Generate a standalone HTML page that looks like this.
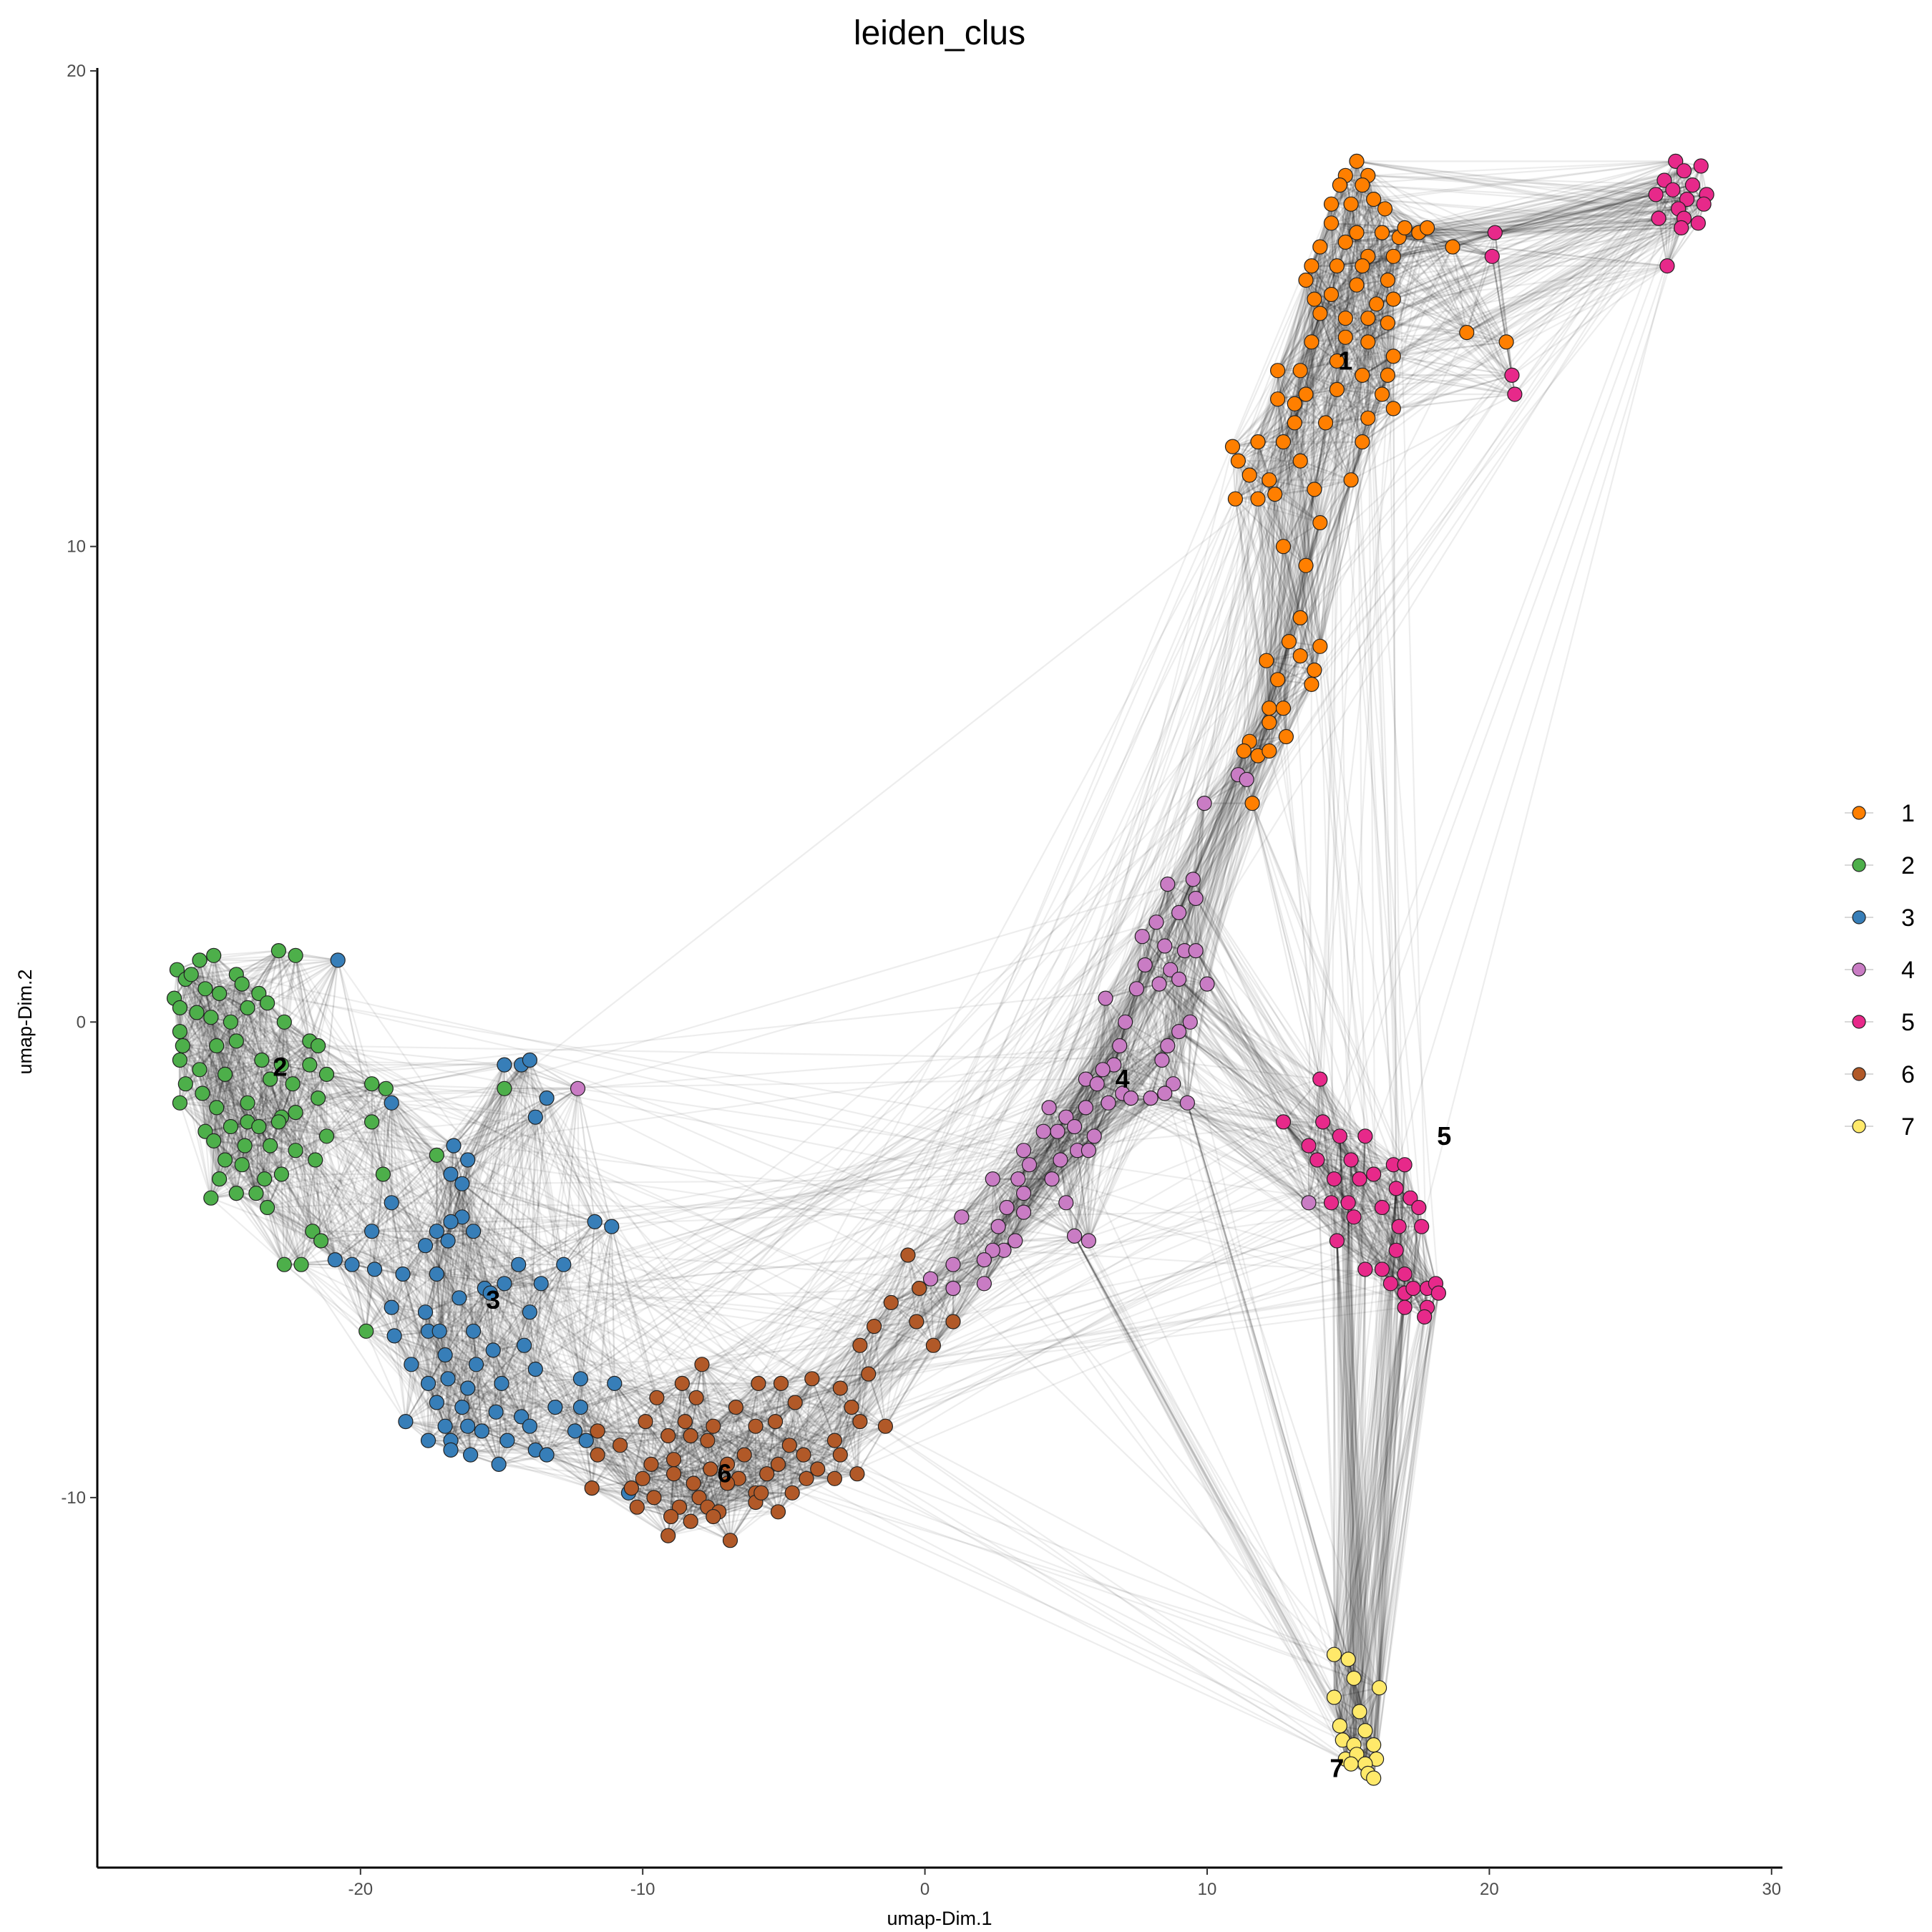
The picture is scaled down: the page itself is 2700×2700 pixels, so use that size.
<!DOCTYPE html>
<html><head><meta charset="utf-8"><title>leiden_clus</title>
<style>
html,body{margin:0;padding:0;background:#fff;}
svg{display:block;font-family:"Liberation Sans",sans-serif;}
</style></head>
<body>
<svg id="chart" width="2700" height="2700" viewBox="0 0 2700 2700" xmlns="http://www.w3.org/2000/svg">
<text x="1313" y="62" font-size="48" text-anchor="middle" fill="#000">leiden_clus</text>
<g id="edges"></g>
<g id="points"></g>
<g id="labels"></g>
<g id="axes"></g>
<g id="legend"></g>
</svg>
<script>
const clusterNames=["1","2","3","4","5","6","7"];
const clusterColors=["#FF7F00","#4DAF4A","#377EB8","#C97CC4","#E7298A","#B15928","#FFE96A"];
const xTicks=[-20,-10,0,10,20,30];
const yTicks=[-10,0,10,20];
const labelPos=[[14.9,13.9],[-22.85,-0.95],[-15.3,-5.85],[7.0,-1.2],[18.4,-2.4],[-7.1,-9.5],[14.6,-15.7]];
const c1=[[15.3,18.1],[14.9,17.8],[15.7,17.8],[14.7,17.6],[15.5,17.6],[14.4,17.2],[15.1,17.2],[15.9,17.3],[16.3,17.1],[14.4,16.8],[15.3,16.6],[16.2,16.6],[16.8,16.5],[14.0,16.3],[14.9,16.4],[15.7,16.1],[16.6,16.1],[13.7,15.9],[14.6,15.9],[15.5,15.9],[16.4,15.6],[13.5,15.6],[14.4,15.3],[15.3,15.5],[16.0,15.1],[16.6,15.2],[14.0,14.9],[14.9,14.8],[15.7,14.8],[16.4,14.7],[13.7,14.3],[14.9,14.4],[15.7,14.3],[16.6,14.0],[13.3,13.7],[14.6,13.9],[15.5,13.6],[16.4,13.6],[12.5,13.7],[13.5,13.2],[14.6,13.3],[16.2,13.2],[12.5,13.1],[13.1,13.0],[15.7,12.7],[16.6,12.9],[13.1,12.6],[14.2,12.6],[15.5,12.2],[11.8,12.2],[12.7,12.2],[10.9,12.1],[11.1,11.8],[13.3,11.8],[15.1,11.4],[11.5,11.5],[12.2,11.4],[13.8,11.2],[11.0,11.0],[11.8,11.0],[12.4,11.1],[12.7,10.0],[14.0,10.5],[13.5,9.6],[13.3,8.5],[12.9,8.0],[14.0,7.9],[13.3,7.7],[12.1,7.6],[12.5,7.2],[13.7,7.1],[13.8,7.4],[12.2,6.6],[12.7,6.6],[12.2,6.3],[12.8,6.0],[11.5,5.9],[11.8,5.6],[12.2,5.7],[11.6,4.6],[17.5,16.6],[17.8,16.7],[18.7,16.3],[19.2,14.5],[20.6,14.3],[17.0,16.7],[11.3,5.7],[13.8,15.2]];
const c2=[[-26.5,1.1],[-26.2,0.9],[-26.0,1.0],[-25.7,1.3],[-25.2,1.4],[-24.4,1.0],[-24.2,0.8],[-23.6,0.6],[-22.9,1.5],[-22.3,1.4],[-26.6,0.5],[-26.4,0.3],[-25.5,0.7],[-25.0,0.6],[-24.0,0.3],[-23.3,0.4],[-25.8,0.2],[-25.3,0.1],[-24.6,0.0],[-22.7,0.0],[-26.4,-0.2],[-26.3,-0.5],[-25.1,-0.5],[-24.4,-0.4],[-21.8,-0.4],[-21.5,-0.5],[-23.5,-0.8],[-22.8,-0.9],[-26.4,-0.8],[-25.7,-1.0],[-24.8,-1.1],[-21.8,-0.9],[-21.2,-1.1],[-23.2,-1.2],[-22.4,-1.3],[-21.5,-1.6],[-26.2,-1.3],[-25.6,-1.5],[-24.0,-1.7],[-26.4,-1.7],[-25.1,-1.8],[-22.3,-1.9],[-22.8,-2.0],[-19.6,-1.3],[-19.1,-1.4],[-19.6,-2.1],[-14.9,-1.4],[-25.5,-2.3],[-24.6,-2.2],[-24.0,-2.1],[-23.6,-2.2],[-22.9,-2.1],[-21.2,-2.4],[-24.1,-2.6],[-23.2,-2.6],[-22.3,-2.7],[-25.2,-2.5],[-24.8,-2.9],[-21.6,-2.9],[-24.2,-3.0],[-22.8,-3.2],[-25.0,-3.3],[-23.4,-3.3],[-19.2,-3.2],[-17.3,-2.8],[-24.4,-3.6],[-23.7,-3.6],[-25.3,-3.7],[-23.3,-3.9],[-21.7,-4.4],[-21.4,-4.6],[-22.7,-5.1],[-22.1,-5.1],[-19.8,-6.5]];
const c3=[[-20.8,1.3],[-14.9,-0.9],[-14.3,-0.9],[-14.0,-0.8],[-13.4,-1.6],[-13.8,-2.0],[-18.9,-1.7],[-16.7,-2.6],[-16.2,-2.9],[-16.8,-3.2],[-16.4,-3.4],[-18.9,-3.8],[-16.4,-4.1],[-17.3,-4.4],[-16.8,-4.2],[-16.0,-4.4],[-19.6,-4.4],[-17.7,-4.7],[-16.9,-4.6],[-14.4,-5.1],[-12.8,-5.1],[-18.5,-5.3],[-19.5,-5.2],[-20.3,-5.1],[-20.9,-5.0],[-17.3,-5.3],[-15.6,-5.6],[-14.9,-5.5],[-13.6,-5.5],[-18.9,-6.0],[-16.5,-5.8],[-15.4,-5.7],[-17.7,-6.1],[-14.0,-6.1],[-17.6,-6.5],[-18.8,-6.6],[-17.2,-6.5],[-16.0,-6.5],[-15.3,-6.9],[-17.0,-7.0],[-15.9,-7.2],[-14.2,-6.8],[-18.2,-7.2],[-17.6,-7.6],[-16.9,-7.5],[-16.2,-7.7],[-15.0,-7.6],[-13.8,-7.3],[-12.2,-7.5],[-11.0,-7.6],[-17.3,-8.0],[-16.4,-8.1],[-15.2,-8.2],[-14.3,-8.3],[-13.1,-8.1],[-12.2,-8.1],[-16.2,-8.5],[-18.4,-8.4],[-17.0,-8.5],[-15.7,-8.6],[-14.0,-8.5],[-12.4,-8.6],[-17.6,-8.8],[-16.8,-8.8],[-16.1,-9.1],[-14.8,-8.8],[-13.8,-9.0],[-12.0,-8.8],[-16.8,-9.0],[-15.1,-9.3],[-13.4,-9.1],[-11.7,-4.2],[-11.1,-4.3],[-10.5,-9.9]];
const c4=[[11.1,5.2],[11.4,5.1],[9.9,4.6],[8.6,2.9],[9.5,3.0],[9.0,2.3],[9.6,2.6],[8.2,2.1],[7.7,1.8],[9.2,1.5],[8.5,1.6],[9.6,1.5],[7.8,1.2],[8.7,1.1],[9.0,0.9],[8.3,0.8],[10.0,0.8],[7.5,0.7],[6.4,0.5],[7.1,0.0],[9.4,0.0],[9.0,-0.2],[8.6,-0.5],[6.9,-0.5],[8.4,-0.8],[6.7,-0.9],[6.3,-1.0],[5.7,-1.2],[8.8,-1.3],[6.1,-1.3],[7.0,-1.5],[8.5,-1.5],[9.3,-1.7],[6.5,-1.7],[7.3,-1.6],[8.0,-1.6],[4.4,-1.8],[5.7,-1.8],[5.0,-2.0],[4.7,-2.3],[5.3,-2.2],[4.2,-2.3],[6.0,-2.4],[5.4,-2.7],[3.5,-2.7],[4.8,-2.9],[5.8,-2.7],[3.7,-3.0],[2.4,-3.3],[3.3,-3.3],[4.5,-3.3],[5.0,-3.8],[2.9,-3.9],[3.5,-3.6],[3.5,-4.0],[1.3,-4.1],[2.6,-4.3],[3.2,-4.6],[2.8,-4.8],[2.4,-4.8],[5.3,-4.5],[5.8,-4.6],[2.1,-5.0],[1.0,-5.1],[0.2,-5.4],[1.0,-5.6],[2.1,-5.5],[13.6,-3.8],[-12.3,-1.4]];
const c5=[[26.6,18.1],[26.9,17.9],[27.5,18.0],[26.2,17.7],[27.2,17.6],[27.7,17.4],[25.9,17.4],[26.5,17.5],[27.0,17.3],[26.7,17.1],[27.6,17.2],[26.0,16.9],[26.9,16.9],[27.4,16.8],[26.8,16.7],[26.3,15.9],[20.2,16.6],[20.1,16.1],[20.8,13.6],[20.9,13.2],[14.0,-1.2],[12.7,-2.1],[14.1,-2.1],[13.6,-2.6],[14.7,-2.4],[15.6,-2.4],[13.9,-2.9],[14.5,-3.3],[15.1,-2.9],[15.4,-3.3],[15.9,-3.2],[16.6,-3.0],[17.0,-3.0],[14.4,-3.8],[15.0,-3.8],[16.7,-3.5],[17.2,-3.7],[14.6,-4.6],[15.2,-4.1],[16.2,-3.9],[16.8,-4.3],[17.5,-3.9],[17.6,-4.3],[16.7,-4.8],[17.0,-5.3],[15.6,-5.2],[16.2,-5.2],[16.5,-5.5],[17.0,-5.7],[17.3,-5.6],[17.8,-5.6],[18.1,-5.5],[18.2,-5.7],[17.0,-6.0],[17.8,-6.0],[17.7,-6.2]];
const c6=[[-0.6,-4.9],[-0.2,-5.6],[-1.2,-5.9],[-0.3,-6.3],[1.0,-6.3],[0.3,-6.8],[-1.8,-6.4],[-2.3,-6.8],[-2.0,-7.4],[-4.0,-7.5],[-3.0,-7.7],[-5.1,-7.6],[-5.9,-7.6],[-8.6,-7.6],[-7.9,-7.2],[-8.1,-7.9],[-9.5,-7.9],[-2.6,-8.1],[-4.6,-8.0],[-5.3,-8.4],[-6.7,-8.1],[-8.5,-8.4],[-9.9,-8.4],[-7.5,-8.5],[-6.0,-8.5],[-3.2,-8.8],[-4.8,-8.9],[-1.4,-8.5],[-2.3,-8.4],[-11.6,-8.6],[-9.1,-8.7],[-8.3,-8.7],[-7.7,-8.8],[-10.8,-8.9],[-11.6,-9.1],[-3.0,-9.1],[-3.8,-9.4],[-5.2,-9.3],[-4.3,-9.1],[-6.4,-9.1],[-8.9,-9.2],[-7.0,-9.3],[-9.7,-9.3],[-6.6,-9.6],[-7.6,-9.4],[-8.2,-9.7],[-8.9,-9.5],[-10.0,-9.6],[-2.4,-9.5],[-3.2,-9.6],[-4.2,-9.6],[-4.7,-9.9],[-5.6,-9.5],[-6.0,-9.9],[-7.0,-9.7],[-8.0,-10.0],[-9.6,-10.0],[-10.4,-9.8],[-11.8,-9.8],[-10.2,-10.2],[-8.7,-10.2],[-7.7,-10.2],[-7.3,-10.3],[-6.0,-10.1],[-5.2,-10.3],[-9.0,-10.4],[-8.3,-10.5],[-7.5,-10.4],[-9.1,-10.8],[-6.9,-10.9],[-5.8,-9.9]];
const c7=[[14.5,-13.3],[15.0,-13.4],[15.2,-13.8],[16.1,-14.0],[14.5,-14.2],[15.4,-14.5],[14.7,-14.8],[15.6,-14.9],[14.8,-15.1],[15.2,-15.2],[15.9,-15.2],[14.9,-15.5],[15.3,-15.4],[16.0,-15.5],[15.6,-15.6],[15.7,-15.8],[15.9,-15.9],[15.1,-15.6]];
const clusters=[c1,c2,c3,c4,c5,c6,c7];

const NS="http://www.w3.org/2000/svg";
const X0=1292.6, XS=39.44, Y0=1428.3, YS=66.46;
const AX_L=136, AX_B=2610, AX_R=2491, AX_T=95;
function sx(v){return X0+v*XS;}
function sy(v){return Y0-v*YS;}
function mk(tag,attrs,parent){const e=document.createElementNS(NS,tag);for(const k in attrs)e.setAttribute(k,attrs[k]);parent.appendChild(e);return e;}

const all=[];
clusters.forEach((c,ci)=>c.forEach(p=>all.push({x:p[0],y:p[1],c:ci})));
const N=all.length;

const eg=document.getElementById('edges');
const seen=new Set();
function addEdge(i,j,op){
  const key=i<j?i+'_'+j:j+'_'+i;
  if(seen.has(key))return;
  seen.add(key);
  const l=mk('line',{x1:sx(all[i].x).toFixed(1),y1:sy(all[i].y).toFixed(1),x2:sx(all[j].x).toFixed(1),y2:sy(all[j].y).toFixed(1),stroke:"#000","stroke-opacity":op,"stroke-width":"2.2"},eg);
  
  
}
for(let i=0;i<N;i++){
  const ds=[];
  for(let j=0;j<N;j++){if(j===i)continue;const dx=all[i].x-all[j].x,dy=all[i].y-all[j].y;ds.push([dx*dx+dy*dy,j]);}
  ds.sort((a,b)=>a[0]-b[0]);
  for(let k=0;k<10;k++){addEdge(i,ds[k][1],0.13);}
  for(let k=10;k<60;k+=5){addEdge(i,ds[k][1],0.08);}
  const j=(i*7919+13)%N;const dx=all[i].x-all[j].x,dy=all[i].y-all[j].y;
  if(dx*dx+dy*dy<900) addEdge(i,j,0.07);
  const j2=(i*104729+7)%N;const ex=all[i].x-all[j2].x,ey=all[i].y-all[j2].y;
  if(ex*ex+ey*ey<700) addEdge(i,j2,0.07);
}

const pg=document.getElementById('points');
all.forEach(p=>{
  const el=mk('circle',{cx:sx(p.x).toFixed(1),cy:sy(p.y).toFixed(1),r:10,fill:clusterColors[p.c],stroke:"#222","stroke-width":"1.2"},pg);
  
  
});

const lg=document.getElementById('labels');
labelPos.forEach((p,i)=>{
  const t=mk('text',{x:sx(p[0]),y:sy(p[1])+12,"font-size":"36","font-weight":"bold","text-anchor":"middle",fill:"#000"},lg);
  t.textContent=clusterNames[i];
  
  
});

const ag=document.getElementById('axes');
let a=mk('line',{x1:AX_L,y1:AX_B,x2:AX_R,y2:AX_B,stroke:"#000","stroke-width":"3"},ag);

a=mk('line',{x1:AX_L,y1:AX_B,x2:AX_L,y2:AX_T,stroke:"#000","stroke-width":"3"},ag);

xTicks.forEach(v=>{
  const l=mk('line',{x1:sx(v),y1:AX_B,x2:sx(v),y2:AX_B+10,stroke:"#333","stroke-width":"2"},ag);
  
  const t=mk('text',{x:sx(v),y:AX_B+38,"font-size":"24","text-anchor":"middle",fill:"#4d4d4d"},ag);
  t.textContent=v;
});
yTicks.forEach(v=>{
  const l=mk('line',{x1:AX_L-10,y1:sy(v),x2:AX_L,y2:sy(v),stroke:"#333","stroke-width":"2"},ag);
  
  const t=mk('text',{x:AX_L-16,y:sy(v)+8,"font-size":"24","text-anchor":"end",fill:"#4d4d4d"},ag);
  t.textContent=v;
});
let tt=mk('text',{x:1313,y:2690,"font-size":"27","text-anchor":"middle",fill:"#000"},ag);
tt.textContent="umap-Dim.1";
tt=mk('text',{x:0,y:0,"font-size":"27","text-anchor":"middle",fill:"#000",transform:"translate(44,1428) rotate(-90)"},ag);
tt.textContent="umap-Dim.2";

const leg=document.getElementById('legend');
clusterNames.forEach((n,i)=>{
  const y=1136+i*73;
  const g=mk('g',{},leg);
  
  
  mk('line',{x1:2578,y1:y,x2:2618,y2:y,stroke:"#000","stroke-opacity":"0.15","stroke-width":"2"},g);
  mk('circle',{cx:2598,cy:y,r:9,fill:clusterColors[i],stroke:"#222","stroke-width":"1.2"},g);
  const t=mk('text',{x:2657,y:y+12,"font-size":"34",fill:"#000"},g);
  t.textContent=n;
});
</script>
</body></html>
